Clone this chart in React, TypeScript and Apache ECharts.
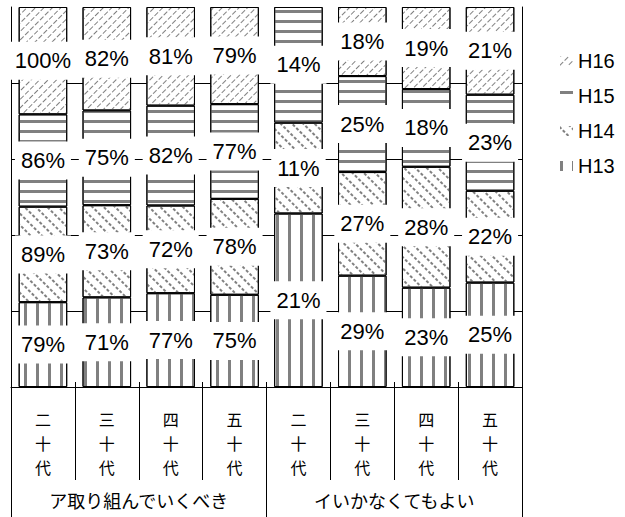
import React, { useEffect, useRef } from 'react';
import * as echarts from 'echarts';

// Categories (x axis, lower level) and groups (x axis, upper level)
const categories = ['二十代', '三十代', '四十代', '五十代', '二十代', '三十代', '四十代', '五十代'];
const groups = ['ア取り組んでいくべき', 'イいかなくてもよい'];

// Series names (stack order bottom -> top) and legend order
const seriesNames = ['H13', 'H14', 'H15', 'H16'];
const legendOrder = ['H16', 'H15', 'H14', 'H13'];

// Raw values (%) shown as labels; bars are drawn as share of each column's total
const h13 = [79, 71, 77, 75, 21, 29, 23, 25];
const h14 = [89, 73, 72, 78, 11, 27, 28, 22];
const h15 = [86, 75, 82, 77, 14, 25, 18, 23];
const h16 = [100, 82, 81, 79, 0, 18, 19, 21];

const LATIN = "'Liberation Sans', Arial, sans-serif";
const CJK = "'Noto Sans CJK JP', sans-serif";

export default function App() {
  const ref = useRef<HTMLDivElement>(null);

  useEffect(() => {
    if (!ref.current) return;
    const chart = echarts.init(ref.current, null, { renderer: 'svg' });

    const raw = [h13, h14, h15, h16];
    const totals = categories.map((_, i) => raw.reduce((s, arr) => s + arr[i], 0));

    const grey = '#808080';
    const decals: any[] = [
      // H13: vertical stripes
      { symbol: 'rect', symbolSize: 1, color: grey, dashArrayX: [3, 9], dashArrayY: [1, 0], rotation: 0 },
      // H14: dotted backslash
      { symbol: 'rect', symbolSize: 1, color: grey, dashArrayX: [3, 2], dashArrayY: [2, 6], rotation: Math.PI / 4 },
      // H15: horizontal stripes
      { symbol: 'rect', symbolSize: 1, color: grey, dashArrayX: [1, 0], dashArrayY: [3, 7], rotation: 0 },
      // H16: dashed slash
      { symbol: 'rect', symbolSize: 1, color: grey, dashArrayX: [5, 2], dashArrayY: [1, 5], rotation: -Math.PI / 4 },
    ];

    const series = raw.map((arr, k) => ({
      name: seriesNames[k],
      type: 'bar',
      stack: 'total',
      barWidth: '76%',
      xAxisIndex: 0,
      yAxisIndex: 0,
      data: arr.map((v, i) => (v > 0 ? (v / totals[i]) * 100 : null)),
      itemStyle: { color: '#fff', borderColor: '#000', borderWidth: 1, decal: decals[k] },
      label: {
        show: true,
        position: 'inside',
        formatter: (p: any) => `${arr[p.dataIndex]}%`,
        fontSize: 22,
        fontFamily: LATIN,
        color: '#000',
        backgroundColor: '#fff',
        padding: [8, 6],
      },
      emphasis: { disabled: true },
    }));

    chart.setOption({
      animation: false,
      backgroundColor: '#fff',
      grid: { left: 11, right: 103, top: 7, bottom: 130, containLabel: false },
      legend: {
        orient: 'vertical',
        left: 555,
        top: 46,
        data: legendOrder,
        icon: 'rect',
        itemWidth: 13,
        itemHeight: 10,
        itemGap: 15,
        itemStyle: { borderWidth: 0 },
        textStyle: { fontSize: 20, fontFamily: LATIN, color: '#000' },
      },
      xAxis: [
        {
          type: 'category',
          position: 'bottom',
          data: categories,
          axisLine: { show: true, lineStyle: { color: '#000', width: 1 } },
          axisTick: { show: true, inside: true, length: 5, lineStyle: { color: '#000' } },
          axisLabel: {
            interval: 0,
            formatter: (v: string) => v.split('').join('\n'),
            fontSize: 16,
            lineHeight: 24,
            margin: 20,
            color: '#000',
            fontFamily: CJK,
          },
          splitLine: { show: false },
        },
        {
          type: 'category',
          position: 'bottom',
          data: categories,
          axisLine: { show: false },
          axisTick: { show: true, length: 93, lineStyle: { color: '#000' } },
          axisLabel: { show: false },
          splitLine: { show: false },
        },
        {
          type: 'category',
          position: 'bottom',
          data: groups,
          axisLine: { show: false },
          axisTick: { show: true, length: 130, lineStyle: { color: '#000' } },
          axisLabel: { interval: 0, fontSize: 18, margin: 104, color: '#000', fontFamily: CJK },
          splitLine: { show: false },
        },
      ],
      yAxis: [
        {
          type: 'value',
          min: 0,
          max: 100,
          interval: 20,
          axisLine: { show: true, lineStyle: { color: '#000', width: 1 } },
          axisTick: { show: false },
          axisLabel: { show: false },
          splitLine: { show: true, showMaxLine: false, lineStyle: { color: '#000', width: 1 } },
        },
        {
          type: 'value',
          position: 'right',
          min: 0,
          max: 100,
          interval: 20,
          axisLine: { show: true, lineStyle: { color: '#000', width: 1 } },
          axisTick: { show: false },
          axisLabel: { show: false },
          splitLine: { show: false },
        },
      ],
      series,
    });

    return () => chart.dispose();
  }, []);

  return (
    <div
      ref={ref}
      style={{ position: 'absolute', left: 0, top: 0, width: 625, height: 517 }}
    />
  );
}
